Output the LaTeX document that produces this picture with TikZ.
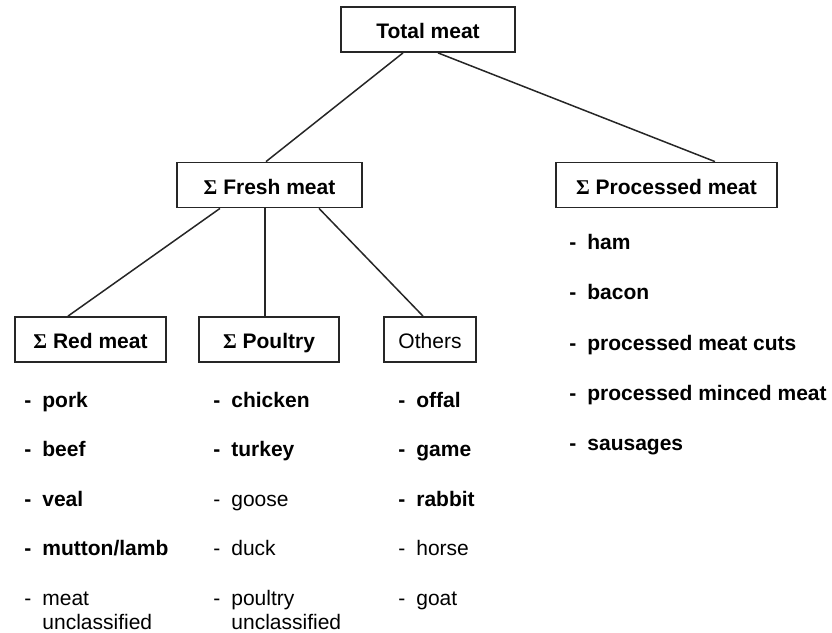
\documentclass[tikz,border=0pt]{standalone}
\usepackage{fontspec}
\setmainfont{Liberation Sans}
\newfontfamily\sigfont{Liberation Serif}
\usetikzlibrary{calc}
\newcommand{\Sg}{{\sigfont\bfseries Σ}}
\newcommand{\Dsh}{\makebox[9pt][l]{-}}
\begin{document}
\begin{tikzpicture}[x=0.5pt,y=-0.5pt,
  box/.style={draw=black!85, line width=0.9pt, inner sep=0pt, minimum height=22.5pt,
    text height=9pt, text depth=0pt,
    font=\fontsize{10.5}{12.6}\selectfont\bfseries},
  item/.style={anchor=base west, inner sep=0pt, align=left,
    font=\fontsize{10.5}{12}\selectfont\bfseries},
  itemr/.style={item, font=\fontsize{10.5}{12}\selectfont\mdseries},
  link/.style={draw=black!85, line width=0.75pt}]
\useasboundingbox (0,0) rectangle (832,633);

% boxes
\node[box, minimum width=87pt]   (total)   at (428,29.5)  {Total meat};
\node[box, minimum width=92.5pt] (fresh)   at (269.5,185) {\Sg\ Fresh meat};
\node[box, minimum width=110.5pt](proc)    at (666.5,185) {\Sg\ Processed meat};
\node[box, minimum width=75.5pt] (red)     at (90.5,339.5){\Sg\ Red meat};
\node[box, minimum width=70pt]   (poultry) at (269,339.5) {\Sg\ Poultry};
\node[box, minimum width=46pt, font=\fontsize{10.5}{12.6}\selectfont\mdseries] (others) at (430,339.5) {Others};

% connectors
\draw[link] ($(total.south)+(-25,0)$) -- ($(fresh.north)+(-3.5,0)$);
\draw[link] ($(total.south)+(10,0)$) -- ($(proc.north)+(48.5,0)$);
\draw[link] ($(fresh.south)+(-49.5,0)$) -- ($(red.north)+(-22.5,0)$);
\draw[link] ($(fresh.south)+(-4.5,0)$) -- ($(poultry.north)+(-4,0)$);
\draw[link] ($(fresh.south)+(49.5,0)$) -- ($(others.north)+(-7,0)$);

% red meat list
\node[item]  (r1) at (24,407)   {\Dsh pork};
\node[item]  (r2) at (24,456.5) {\Dsh beef};
\node[item]  (r3) at (24,506)   {\Dsh veal};
\node[item]  (r4) at (24,555.5) {\Dsh mutton/lamb};
\node[itemr] (r5) at (24,629)   {\Dsh meat\\\hspace*{9pt}unclassified};

% poultry list
\node[item]  (p1) at (213,407)   {\Dsh chicken};
\node[item]  (p2) at (213,456.5) {\Dsh turkey};
\node[itemr] (p3) at (213,506)   {\Dsh goose};
\node[itemr] (p4) at (213,555.5) {\Dsh duck};
\node[itemr] (p5) at (213,629)   {\Dsh poultry\\\hspace*{9pt}unclassified};

% others list
\node[item]  (o1) at (398,407)   {\Dsh offal};
\node[item]  (o2) at (398,456.5) {\Dsh game};
\node[item]  (o3) at (398,506)   {\Dsh rabbit};
\node[itemr] (o4) at (398,555.5) {\Dsh horse};
\node[itemr] (o5) at (398,605)   {\Dsh goat};

% processed list
\node[item] (m1) at (569,249)   {\Dsh ham};
\node[item] (m2) at (569,299.5) {\Dsh bacon};
\node[item] (m3) at (569,350)   {\Dsh processed meat cuts};
\node[item] (m4) at (569,400)   {\Dsh processed minced meat};
\node[item] (m5) at (569,450)   {\Dsh sausages};
\end{tikzpicture}
\end{document}
